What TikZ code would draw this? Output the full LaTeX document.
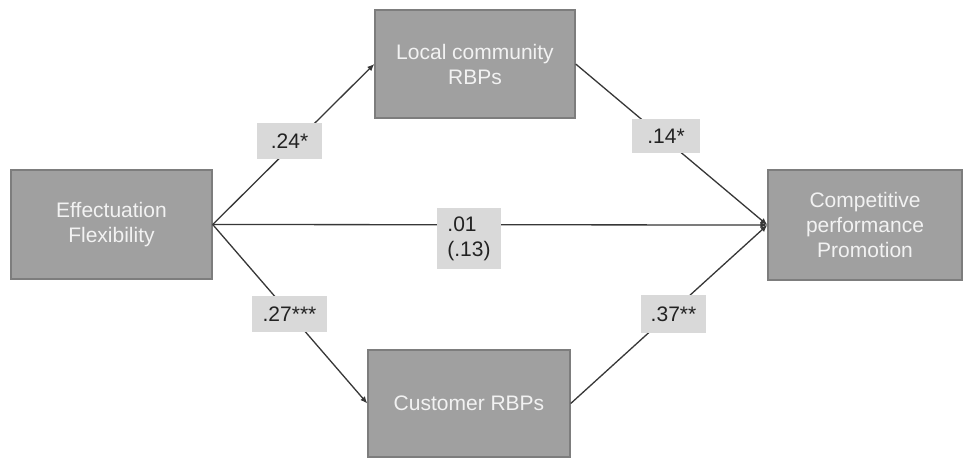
\documentclass[tikz,border=0pt]{standalone}
\usepackage{fontspec}
\setmainfont{Liberation Sans}
\usetikzlibrary{arrows.meta}
\definecolor{boxfill}{RGB}{160,160,160}
\definecolor{boxline}{RGB}{125,125,125}
\definecolor{boxtext}{RGB}{242,242,242}
\definecolor{tagfill}{RGB}{217,217,217}
\definecolor{tagtext}{RGB}{34,34,34}
\definecolor{pathline}{RGB}{55,55,55}
\tikzset{
  construct/.style={draw=boxline, line width=1.4pt, fill=boxfill, text=boxtext,
    align=center, inner sep=0pt, font=\fontsize{21}{25}\selectfont},
  coef/.style={fill=tagfill, text=tagtext, inner sep=0pt, align=left,
    font=\fontsize{21}{25}\selectfont},
  effect/.style={draw=pathline, line width=1.3pt,
    -{Latex[length=7pt,width=6pt]}},
}
\begin{document}
\begin{tikzpicture}[x=1pt,y=-1pt]
\useasboundingbox[fill=white] (0,0) rectangle (963,459);

% constructs
\node[construct, minimum width=201pt, minimum height=109pt] (ef) at (111.5,224.5)
  {Effectuation\\Flexibility};
\node[construct, minimum width=200pt, minimum height=108pt] (lc) at (475,64)
  {Local community\\RBPs};
\node[construct, minimum width=202pt, minimum height=107pt] (cu) at (469,403.5)
  {Customer RBPs};
\node[construct, minimum width=194pt, minimum height=110pt] (cp) at (865,225)
  {Competitive\\performance\\Promotion};

% structural paths
\draw[effect] (ef.east) -- (lc.west);
\draw[effect] (ef.east) -- (cu.west);
\draw[effect] (ef.east) -- (cp.west);
\draw[effect] (lc.east) -- (cp.west);
\draw[effect] (cu.east) -- (cp.west);

% path coefficients
\node[coef, minimum width=65pt, minimum height=36pt] (c1) at (289.5,141) {.24*};
\node[coef, minimum width=75pt, minimum height=36pt] (c2) at (289.5,314) {.27***};
\node[coef, minimum width=64pt, minimum height=61pt] (c3) at (469,238.5) {.01\\(.13)};
\node[coef, minimum width=68pt, minimum height=34pt] (c4) at (666,136) {.14*};
\node[coef, minimum width=65pt, minimum height=38pt] (c5) at (673.5,314) {.37**};
\end{tikzpicture}
\end{document}
